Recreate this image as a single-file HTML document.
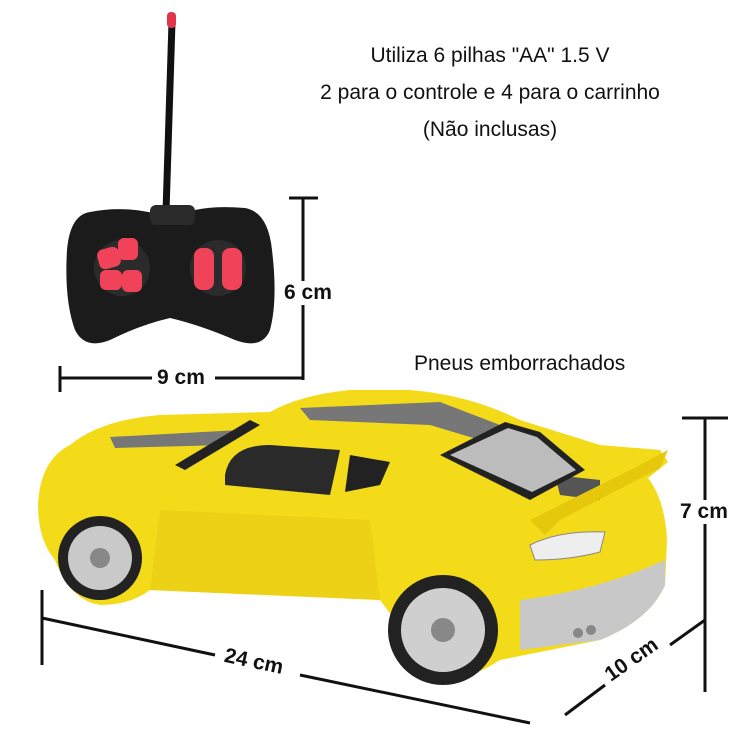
<!DOCTYPE html>
<html><head><meta charset="utf-8"><style>
body{margin:0;width:750px;height:750px;background:#fff;overflow:hidden;position:relative;font-family:"Liberation Sans",sans-serif}
.t{position:absolute;color:#111}
.b{font-size:21px;font-weight:bold;background:#fff;padding:0 2px}
</style></head><body>
<svg width="750" height="750" style="position:absolute;left:0;top:0">
<line x1="172" y1="22" x2="166" y2="212" stroke="#111" stroke-width="7" stroke-linecap="round"/>
<rect x="167" y="12" width="9" height="16" rx="4" fill="#e0354a"/>
<path d="M90,212 Q70,215 67,250 Q64,300 75,330 Q85,350 110,340 Q140,325 170,318 Q200,325 235,340 Q262,350 270,330 Q278,300 272,250 Q268,212 245,208 Q200,204 170,218 Q130,204 90,212Z" fill="#1b1b1b"/>
<rect x="150" y="205" width="45" height="20" rx="6" fill="#2a2a2a"/>
<circle cx="122" cy="268" r="28" fill="#2b2b2b"/>
<circle cx="218" cy="268" r="28" fill="#2b2b2b"/>
<rect x="98" y="248" width="22" height="20" rx="6" fill="#f0435a" transform="rotate(-15 109 258)"/>
<rect x="118" y="238" width="20" height="22" rx="6" fill="#f0435a"/>
<rect x="100" y="270" width="22" height="20" rx="6" fill="#f0435a"/>
<rect x="122" y="270" width="20" height="22" rx="6" fill="#f0435a"/>
<rect x="194" y="248" width="20" height="42" rx="8" fill="#f0435a"/>
<rect x="222" y="248" width="20" height="42" rx="8" fill="#f0435a"/>
<g stroke="#111" stroke-width="3" fill="none">
<line x1="303" y1="197" x2="303" y2="380"/><line x1="289" y1="198" x2="318" y2="198"/>
<line x1="60" y1="378" x2="152" y2="378"/><line x1="215" y1="378" x2="303" y2="378"/><line x1="60" y1="366" x2="60" y2="392"/>
<line x1="705" y1="418" x2="705" y2="692"/><line x1="682" y1="418" x2="728" y2="418"/>
<line x1="42" y1="590" x2="42" y2="665"/>
<line x1="42" y1="618" x2="215" y2="655"/><line x1="300" y1="675" x2="530" y2="723"/>
<line x1="565" y1="715" x2="605" y2="685"/><line x1="670" y1="645" x2="705" y2="620"/>
</g>
<path d="M38,505 Q40,460 70,445 Q100,420 160,415 L270,412 Q300,395 350,390 L410,390 Q470,395 520,420 L600,445 L660,450 L668,462 L648,478 Q665,500 667,540 L665,585 Q650,620 600,640 L500,660 Q470,680 440,680 L380,600 L150,590 Q130,605 100,605 Q70,600 55,560 Q38,540 38,505Z" fill="#f3db1a"/>
<path d="M150,590 L380,600 L370,520 L160,510Z" fill="#ecd116"/>
<path d="M520,600 Q600,590 665,560 L665,585 Q650,620 600,640 L520,650Z" fill="#c8c8c8"/>
<path d="M300,408 L440,402 L500,425 L480,440 L430,425 L310,420Z" fill="#777"/>
<path d="M110,437 L240,430 L225,445 L115,448Z" fill="#777"/>
<path d="M555,475 L600,480 L600,500 L560,495Z" fill="#555"/>
<path d="M225,475 Q230,445 270,445 L340,450 L330,495 L225,485Z" fill="#2a2a2a"/>
<path d="M350,455 L390,462 L380,485 L345,492Z" fill="#222"/>
<path d="M440,455 L505,422 L540,432 L585,470 L530,500Z" fill="#222"/>
<path d="M450,455 L508,428 L537,437 L576,470 L532,492Z" fill="#bcbcbc"/>
<path d="M175,465 L250,420 L260,425 L185,470Z" fill="#222"/>
<path d="M530,520 L640,465 L668,450 L660,468 L560,520 L545,535Z" fill="#e5c80c"/>
<path d="M530,545 Q560,530 605,532 L600,552 Q570,560 535,560Z" fill="#eee" stroke="#888"/>
<circle cx="100" cy="558" r="42" fill="#222"/><circle cx="100" cy="558" r="32" fill="#c9c9c9"/><circle cx="100" cy="558" r="10" fill="#888"/>
<circle cx="443" cy="630" r="55" fill="#222"/><circle cx="443" cy="630" r="42" fill="#cfcfcf"/><circle cx="443" cy="630" r="12" fill="#888"/>
<circle cx="578" cy="633" r="5" fill="#888"/><circle cx="591" cy="630" r="5" fill="#888"/>
</svg>
<div class="t" style="left:250px;top:37px;width:480px;text-align:center;font-size:21px;line-height:37px">Utiliza 6 pilhas "AA" 1.5 V<br>2 para o controle e 4 para o carrinho<br>(Não inclusas)</div>
<div class="t" style="left:414px;top:352px;font-size:21px">Pneus emborrachados</div>
<div class="t b" style="left:282px;top:281px">6 cm</div>
<div class="t b" style="left:155px;top:366px">9 cm</div>
<div class="t b" style="left:678px;top:500px">7 cm</div>
<div class="t b" style="left:222px;top:650px;background:none;transform:rotate(12deg)">24 cm</div>
<div class="t b" style="left:600px;top:648px;background:none;transform:rotate(-35deg)">10 cm</div>
</body></html>
